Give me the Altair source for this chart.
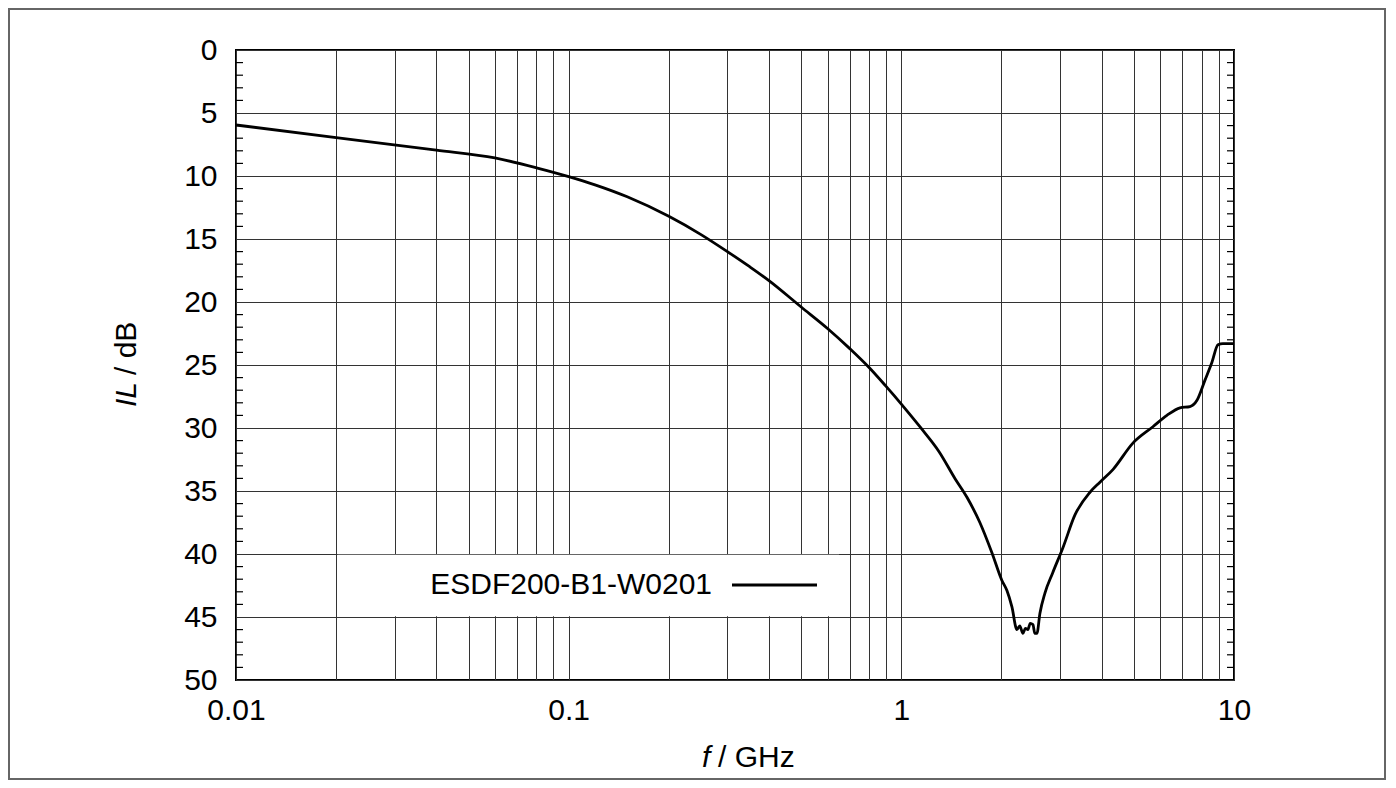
import altair as alt
import pandas as pd

# ---- data ----
freq_ghz = [0.01, 0.02, 0.04, 0.06, 0.08, 0.1, 0.12, 0.15, 0.2, 0.25,
            0.3, 0.35, 0.4, 0.5, 0.6, 0.7, 0.8, 0.9, 1.0, 1.137,
            1.3, 1.449, 1.575, 1.722, 1.872, 2.006, 2.077, 2.15, 2.226, 2.27,
            2.32, 2.36, 2.402, 2.44, 2.486, 2.52, 2.556, 2.61, 2.702, 2.85,
            3.06, 3.326, 3.69, 3.954, 4.325, 4.967, 5.705, 6.285, 6.88, 7.37,
            7.74, 8.18, 8.58, 8.95, 9.26, 9.86, 10.0]
il_db = [5.95, 6.95, 7.95, 8.57, 9.35, 10.05, 10.7, 11.65, 13.2, 14.65,
         16.0, 17.2, 18.3, 20.4, 22.1, 23.7, 25.2, 26.7, 28.1, 29.9,
         31.9, 34.0, 35.5, 37.5, 39.9, 42.1, 42.9, 44.2, 46.0, 45.7,
         46.3, 45.9, 46.0, 45.5, 45.6, 46.3, 46.3, 44.7, 43.1, 41.5,
         39.5, 36.9, 35.1, 34.3, 33.3, 31.2, 29.9, 29.0, 28.4, 28.3,
         27.8, 26.2, 24.8, 23.4, 23.3, 23.3, 23.3]
series_name = "ESDF200-B1-W0201"

x_grid_values = [m * d for d in (0.01, 0.1, 1.0) for m in range(1, 10)] + [10.0]
x_labels = ["0.01", "0.1", "1", "10"]
y_major = list(range(0, 51, 5))
y_minor = [v for v in range(1, 50) if v % 5 != 0]

FONT = "Liberation Sans"
FS = 30

df = pd.DataFrame({"f": freq_ghz, "il": il_db, "series": series_name})
minor_df = pd.DataFrame({"il": y_minor})
legend_box = pd.DataFrame({"x1": [0.0202], "x2": [0.65], "y1": [40.06], "y2": [44.94]})

xscale = alt.Scale(type="log", domain=[0.01, 10], nice=False)
yscale = alt.Scale(domain=[0, 50], reverse=True, nice=False)

label_expr = ("datum.value < 0.0101 ? '%s' : (abs(datum.value-0.1) < 1e-9 ? '%s' : "
              "(abs(datum.value-1) < 1e-9 ? '%s' : (abs(datum.value-10) < 1e-9 ? '%s' : '')))"
              % tuple(x_labels))

x_axis = alt.Axis(values=x_grid_values, labelExpr=label_expr, title=None, grid=True,
                  gridColor="#333333", gridWidth=1, ticks=False, domain=False,
                  labelFont=FONT, labelFontSize=FS, labelColor="#000000",
                  labelPadding=15, labelFlush=False, labelOverlap=False)
y_axis = alt.Axis(values=y_major, title=None, grid=True, gridColor="#333333", gridWidth=1,
                  ticks=False, domain=False, labelFont=FONT, labelFontSize=FS,
                  labelColor="#000000", labelPadding=19, labelOverlap=False)

curve = alt.Chart(df).mark_line(color="#000000", strokeWidth=2.8, clip=True,
                                interpolate="monotone").encode(
    x=alt.X("f:Q", scale=xscale, axis=x_axis),
    y=alt.Y("il:Q", scale=yscale, axis=y_axis),
)

box = alt.Chart(legend_box).mark_rect(fill="#ffffff").encode(
    x=alt.X("x1:Q", scale=xscale), x2="x2:Q",
    y=alt.Y("y1:Q", scale=yscale), y2="y2:Q",
)

minor_left = alt.Chart(minor_df).mark_rule(color="#000000", strokeWidth=1.2).encode(
    y=alt.Y("il:Q", scale=yscale), x=alt.value(0), x2=alt.value(7))
minor_right = alt.Chart(minor_df).mark_rule(color="#000000", strokeWidth=1.2).encode(
    y=alt.Y("il:Q", scale=yscale), x=alt.value(991), x2=alt.value(998))

leg_text = alt.Chart(pd.DataFrame({"t": [series_name]})).mark_text(
    font=FONT, fontSize=FS, align="right", baseline="middle", color="#000000"
).encode(text="t:N", x=alt.value(476), y=alt.value(535))
leg_line = alt.Chart(pd.DataFrame({"t": [series_name]})).mark_rule(
    color="#000000", strokeWidth=2.8).encode(x=alt.value(496), x2=alt.value(581), y=alt.value(535))

title_df = pd.DataFrame({"a": [1]})
ytitle_it = alt.Chart(title_df).mark_text(
    font=FONT, fontSize=FS, fontStyle="italic", angle=270, align="left", baseline="middle",
    color="#000000").encode(text=alt.value("IL"), x=alt.value(-109), y=alt.value(357))
ytitle_rest = alt.Chart(title_df).mark_text(
    font=FONT, fontSize=FS, angle=270, align="left", baseline="middle",
    color="#000000").encode(text=alt.value("/ dB"), x=alt.value(-109), y=alt.value(325))
xtitle_it = alt.Chart(title_df).mark_text(
    font=FONT, fontSize=FS, fontStyle="italic", align="left", baseline="alphabetic",
    color="#000000").encode(text=alt.value("f"), x=alt.value(466), y=alt.value(717))
xtitle_rest = alt.Chart(title_df).mark_text(
    font=FONT, fontSize=FS, align="left", baseline="alphabetic",
    color="#000000").encode(text=alt.value("/ GHz"), x=alt.value(482), y=alt.value(717))

frame = alt.Chart(title_df).mark_rect(fill=None, stroke="#666666", strokeWidth=2).encode(
    x=alt.value(-227), x2=alt.value(1149), y=alt.value(-41), y2=alt.value(729))

chart = alt.layer(
    curve, box, minor_left, minor_right, leg_text, leg_line,
    ytitle_it, ytitle_rest, xtitle_it, xtitle_rest, frame,
).properties(
    width=998, height=630,
    autosize=alt.AutoSizeParams(type="none"),
    padding={"left": 228, "top": 42, "right": 152, "bottom": 100},
    background="#ffffff",
).configure_view(stroke="#000000", strokeWidth=2)

chart.save("out.html", embed_options={"renderer": "svg", "actions": False})
